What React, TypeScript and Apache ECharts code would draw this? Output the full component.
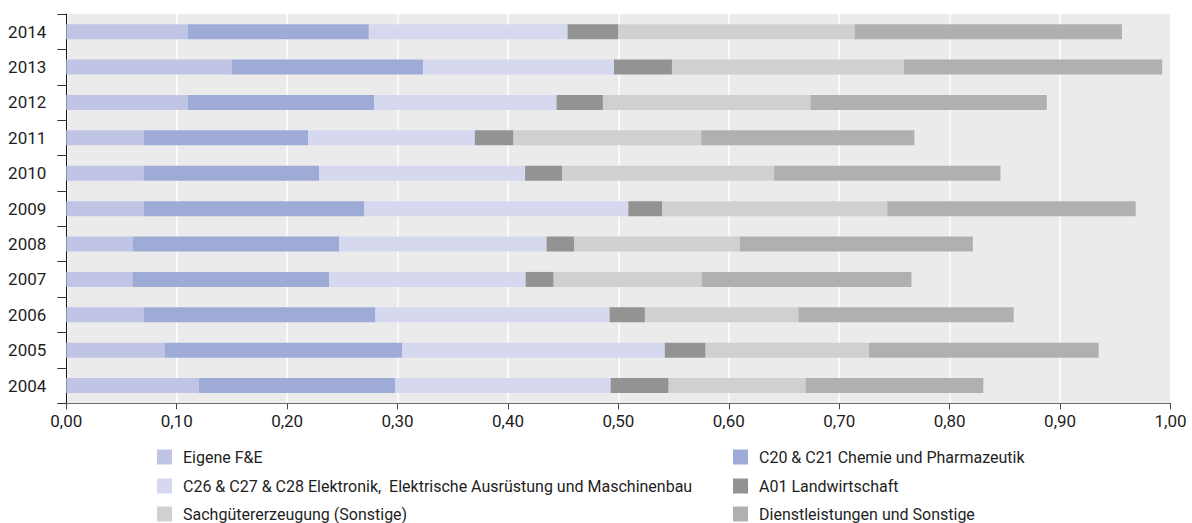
import React, { useEffect, useRef } from "react";
import * as echarts from "echarts";

const years = ["2004", "2005", "2006", "2007", "2008", "2009", "2010", "2011", "2012", "2013", "2014"];

const seriesNames = [
  "Eigene F&E",
  "C20 & C21 Chemie und Pharmazeutik",
  "C26 & C27 & C28 Elektronik,  Elektrische Ausrüstung und Maschinenbau",
  "A01 Landwirtschaft",
  "Sachgütererzeugung (Sonstige)",
  "Dienstleistungen und Sonstige",
];

const eigeneFE = [0.12, 0.089, 0.07, 0.06, 0.06, 0.07, 0.07, 0.07, 0.11, 0.15, 0.11];
const chemiePharma = [0.178, 0.215, 0.21, 0.178, 0.187, 0.2, 0.159, 0.149, 0.169, 0.173, 0.164];
const elektronik = [0.195, 0.238, 0.212, 0.178, 0.188, 0.239, 0.1865, 0.151, 0.165, 0.173, 0.18];
const landwirtschaft = [0.0525, 0.037, 0.032, 0.0254, 0.025, 0.0305, 0.0335, 0.035, 0.042, 0.0525, 0.046];
const sachgueter = [0.124, 0.148, 0.139, 0.134, 0.15, 0.204, 0.192, 0.17, 0.188, 0.21, 0.214];
const dienstleistungen = [0.161, 0.208, 0.195, 0.19, 0.211, 0.225, 0.205, 0.193, 0.214, 0.234, 0.242];

const seriesValues = [eigeneFE, chemiePharma, elektronik, landwirtschaft, sachgueter, dienstleistungen];
const colors = ["#c0c5e6", "#9fabd7", "#d6d8ef", "#939393", "#d0d0d0", "#b0b0b0"];

// legend grid: column of each series, row of each series
const legendCol = [0, 1, 0, 1, 0, 1];
const legendRow = [0, 0, 1, 1, 2, 2];
const legendColLeft = [157, 733];
const legendRowTop = [449, 478, 506];

const FONT = "Roboto, 'Liberation Sans', sans-serif";
const TEXT = "#1e1e1e";

export default function App() {
  const ref = useRef<HTMLDivElement>(null);
  useEffect(() => {
    if (!ref.current) return;
    const chart = echarts.init(ref.current, undefined, { renderer: "svg" });
    chart.setOption({
      animation: false,
      textStyle: { fontFamily: FONT },
      grid: {
        left: 66.3,
        right: 21.5,
        top: 14,
        bottom: 119.7,
        show: true,
        backgroundColor: "#ebebeb",
        borderWidth: 0,
      },
      legend: seriesNames.map((name, i) => ({
        orient: "horizontal",
        left: legendColLeft[legendCol[i]],
        top: legendRowTop[legendRow[i]],
        padding: 0,
        itemWidth: 15,
        itemHeight: 15,
        itemGap: 11,
        icon: "rect",
        data: [name],
        textStyle: { fontFamily: FONT, fontSize: 16, color: TEXT, padding: [0, 0, 0, 6] },
        selectedMode: false,
      })),
      xAxis: {
        type: "value",
        min: 0,
        max: 1,
        interval: 0.1,
        axisLine: { show: true, lineStyle: { color: "#6e6e6e", width: 1 } },
        axisTick: { show: true, length: 6, lineStyle: { color: "#444" } },
        splitLine: { show: true, lineStyle: { color: "#ffffff", width: 1.5 } },
        axisLabel: {
          fontFamily: FONT,
          fontSize: 17,
          color: TEXT,
          margin: 9,
          formatter: (v: number) => v.toFixed(2).replace(".", ","),
        },
      },
      yAxis: {
        type: "category",
        data: years,
        axisLine: { show: true, lineStyle: { color: "#111", width: 1 } },
        axisTick: { show: true, length: 9, alignWithLabel: false, lineStyle: { color: "#333" } },
        splitLine: { show: false },
        axisLabel: { fontFamily: FONT, fontSize: 17, color: TEXT, margin: 20 },
      },
      series: seriesNames.map((name, i) => ({
        name,
        type: "bar",
        stack: "total",
        barWidth: 15,
        data: seriesValues[i],
        itemStyle: { color: colors[i] },
        emphasis: { disabled: true },
      })),
    });
    return () => chart.dispose();
  }, []);
  return (
    <div
      ref={ref}
      style={{ position: "fixed", left: 0, top: 0, width: 1192, height: 523, background: "#fff" }}
    />
  );
}
